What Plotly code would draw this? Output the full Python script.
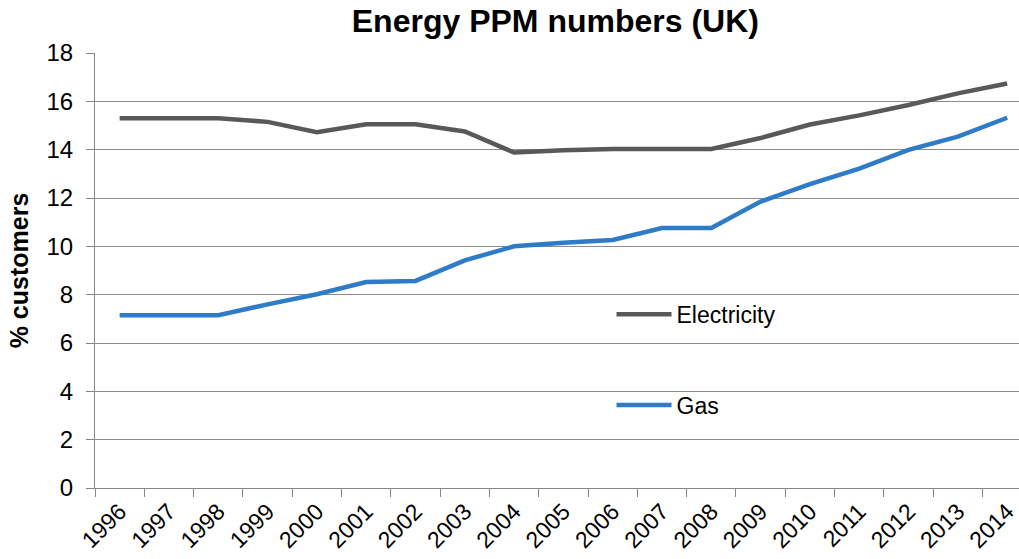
import plotly.graph_objects as go

years = [str(y) for y in range(1996, 2015)]
electricity = [15.3, 15.3, 15.3, 15.15, 14.72, 15.05, 15.05, 14.75, 13.88, 13.98,
               14.03, 14.03, 14.03, 14.48, 15.04, 15.42, 15.85, 16.33, 16.74]
gas = [7.15, 7.15, 7.15, 7.6, 8.02, 8.52, 8.57, 9.42, 10.0, 10.15,
       10.26, 10.76, 10.76, 11.85, 12.57, 13.22, 13.99, 14.54, 15.32]

font_family = "Liberation Sans, Arial, sans-serif"

fig = go.Figure()
fig.add_trace(go.Scatter(
    x=years, y=electricity, name="Electricity", mode="lines",
    line=dict(color="#595959", width=4.5), legendgroup="e"))
fig.add_trace(go.Scatter(
    x=years, y=gas, name="Gas", mode="lines",
    line=dict(color="#2E7BC8", width=4.5), legendgroup="g"))

fig.update_layout(
    width=1019, height=559,
    margin=dict(l=95, r=0, t=53, b=71),
    paper_bgcolor="white", plot_bgcolor="white",
    font=dict(family=font_family, size=23, color="black"),
    title=dict(text="<b>Energy PPM numbers (UK)</b>", x=0.545, xanchor="center",
               y=0.983, yanchor="top", font=dict(size=32)),
    showlegend=True,
    legend=dict(x=0.559, y=0.449, xanchor="left", yanchor="top",
                bgcolor="rgba(0,0,0,0)", tracegroupgap=58, itemwidth=55,
                font=dict(size=23), traceorder="grouped"),
)
fig.update_xaxes(
    type="category", range=[-0.5, 18.24],
    showgrid=False, showline=True, linecolor="#868686", linewidth=1,
    ticks="outside", tickson="boundaries", ticklen=8, tickcolor="#868686",
    tickangle=-45, tickfont=dict(size=23),
)
fig.update_yaxes(
    range=[0, 18], dtick=2, showgrid=True, gridcolor="#8C8C8C", gridwidth=1,
    showline=True, linecolor="#868686", linewidth=1, zeroline=False,
    ticks="outside", ticklen=8, tickcolor="#868686", ticklabelstandoff=8,
    tickfont=dict(size=24),
    title=dict(text="<b>% customers</b>", font=dict(size=25), standoff=10),
)

fig.write_html("out.html")
